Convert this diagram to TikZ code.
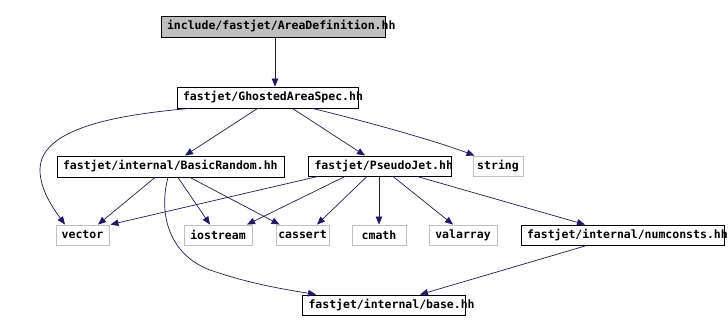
\documentclass[tikz,border=0pt]{standalone}
\usepackage{fontspec}
\setmonofont{DejaVu Sans Mono}
\usetikzlibrary{arrows.meta}
\definecolor{edgeblue}{HTML}{191970}
\definecolor{lightgrayb}{HTML}{BFBFBF}
\newcommand\fixw[2]{\makebox[#1][l]{#2}}
\begin{document}
\begin{tikzpicture}[x=1pt,y=-1pt,
  every node/.style={font=\ttfamily\bfseries\fontsize{11.5}{12}\selectfont, inner ysep=0pt},
  blackbox/.style={draw=black, line width=0.9pt, fill=white, inner xsep=6pt, minimum height=21pt, anchor=center},
  rootbox/.style={blackbox, fill=lightgrayb},
  graybox/.style={draw=lightgrayb, line width=0.9pt, fill=white, inner xsep=0pt, minimum height=20pt, anchor=center},
  edge/.style={-{Triangle[length=8pt,width=6.5pt,fill=edgeblue]}, draw=edgeblue, line width=0.7pt}]
\useasboundingbox (0,0) rectangle (728,332);
% nodes
\node[rootbox] (ad) at (273,26.5) {\fixw{212pt}{include/fastjet/AreaDefinition.hh}};
\node[blackbox] (g) at (267.5,97.5) {\fixw{169pt}{fastjet/GhostedAreaSpec.hh}};
\node[blackbox] (br) at (170.5,166.5) {\fixw{215pt}{fastjet/internal/BasicRandom.hh}};
\node[blackbox, minimum height=20pt] (pj) at (380,166) {\fixw{131pt}{fastjet/PseudoJet.hh}};
\node[graybox, minimum width=50pt] (s) at (498,166) {string};
\node[graybox, minimum width=53pt] (v) at (82.5,235) {vector};
\node[graybox, minimum width=68pt] (io) at (218,235) {iostream};
\node[graybox, minimum width=53pt] (ca) at (302.5,235) {cassert};
\node[graybox, minimum width=54pt] (cm) at (379,235) {cmath};
\node[graybox, minimum width=68pt] (va) at (463,235) {valarray};
\node[blackbox, minimum height=20pt] (nc) at (622.5,235) {\fixw{191pt}{fastjet/internal/numconsts.hh}};
\node[blackbox, minimum height=20pt] (b) at (384,305) {\fixw{151pt}{fastjet/internal/base.hh}};
% edges
\draw[edge] ([xshift=2pt]ad.south) -- ([xshift=2pt]ad.south |- g.north);
\draw[edge] ([xshift=-78pt]g.south) .. controls +(-80,7) and +(0,-40) .. (40,170) .. controls +(0,20) and +(-11,-15) .. ([xshift=-17.5pt]v.north);
\draw[edge] ([xshift=-10pt]g.south) -- ([xshift=14.5pt]br.north);
\draw[edge] ([xshift=25pt]g.south) -- ([xshift=-15pt]pj.north);
\draw[edge] ([xshift=45pt]g.south) .. controls +(50,12) and +(-40,-15) .. ([xshift=2pt]s.north west);
\draw[edge] ([xshift=-15.5pt]br.south) -- ([xshift=15.5pt]v.north);
\draw[edge] ([xshift=7.5pt]br.south) -- ([xshift=-8pt]io.north);
\draw[edge] ([xshift=19.5pt]br.south) -- ([xshift=4pt]ca.north west);
\draw[edge] ([xshift=-2.5pt]br.south) .. controls +(-10,38) and +(-40,-15) .. (210,270) .. controls +(40,14) and +(-30,-5) .. ([xshift=14pt]b.north west);
\draw[edge] ([xshift=-62pt]pj.south) -- ([xshift=1pt]v.north east);
\draw[edge] ([xshift=-35pt]pj.south) -- ([xshift=29pt]io.north);
\draw[edge] ([xshift=-13pt]pj.south) -- ([xshift=14.5pt]ca.north);
\draw[edge] (pj.south -| cm.north) -- (cm.north);
\draw[edge] ([xshift=13pt]pj.south) -- ([xshift=-10pt]va.north);
\draw[edge] ([xshift=37pt]pj.south) -- ([xshift=-37.5pt]nc.north);
\draw[edge] ([xshift=-35.5pt]nc.south) -- ([xshift=36pt]b.north);
\end{tikzpicture}
\end{document}
